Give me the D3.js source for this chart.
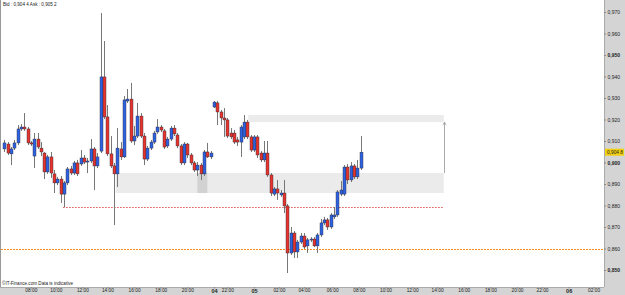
<!DOCTYPE html>
<html>
<head>
<meta charset="utf-8">
<script src="https://cdn.jsdelivr.net/npm/d3@7"></script>
<style>
  body { margin: 0; background: #fff; }
  svg { display: block; font-family: "Liberation Sans", Arial, sans-serif; }
</style>
</head>
<body>
<svg id="chart" width="625" height="295"></svg>
<script>
// 15 minute candles
let opens = [
  .9063,.9086,.9040,.9067,.9091,.9156,.9165,.9156,.9091,.9030,
  .9109,.9067,.9044,.8956,.9026,.8947,.8905,.8923,.8853,.8905,
  .8970,.8951,.8998,.8993,.9021,.9002,.9007,.9063,.8984,.9053,
  .9398,.9212,.9040,.8984,.8947,.9063,.9026,.9286,.9295,.9100,
  .9123,.9216,.9123,.9016,.9067,.9095,.9142,.9165,.9147,.9077,
  .9109,.9160,.9128,.9077,.8998,.9086,.9035,.8998,.8965,.8988,
  .8947,.9049,.9026,.9258,.9277,.9235,.9207,.9198,.9137,.9137,
  .9105,.9095,.9119,.9188,.9119,.9058,.9119,.9044,.9012,.9044,
  .8942,.8853,.8877,.8849,.8858,.8798,.8579,.8672,.8584,.8630,
  .8658,.8612,.8640,.8644,.8612,.8663,.8719,.8733,.8700,.8747,
  .8756,.8853,.8853,.8979,.8919,.8984,.8933,.8974
];
let highs = [
  .9105,.9095,.9072,.9105,.9174,.9179,.9230,.9165,.9100,.9137,
  .9137,.9095,.9049,.9035,.9049,.8965,.8933,.8937,.8914,.8979,
  .8984,.9007,.9012,.9058,.9035,.9021,.9109,.9072,.9044,.9695,
  .9565,.9267,.9123,.8998,.9160,.9095,.9309,.9342,.9370,.9170,
  .9277,.9230,.9137,.9077,.9105,.9147,.9202,.9174,.9156,.9119,
  .9170,.9174,.9137,.9086,.9095,.9091,.9044,.9007,.9002,.8998,
  .9058,.9091,.9053,.9286,.9286,.9244,.9253,.9207,.9160,.9151,
  .9119,.9174,.9221,.9198,.9128,.9128,.9128,.9053,.9100,.9100,
  .8951,.8886,.8919,.8872,.8919,.8807,.8700,.8681,.8640,.8672,
  .8672,.8649,.8653,.8653,.8672,.8737,.8747,.8742,.8765,.8793,
  .8872,.8914,.8988,.8993,.9002,.8993,.9012,.9123
];
let lows = [
  .9049,.9035,.8988,.9058,.9081,.9147,.9147,.9081,.9077,.8974,
  .9063,.9030,.8923,.8947,.8928,.8858,.8895,.8812,.8793,.8895,
  .8942,.8942,.8937,.8984,.8993,.8951,.8998,.8872,.8974,.9044,
  .9202,.9030,.8974,.8709,.8886,.9012,.9021,.9277,.9091,.9081,
  .9114,.9114,.8988,.9007,.9058,.9086,.9133,.9142,.9063,.9067,
  .9100,.9123,.9067,.8988,.8988,.9021,.8988,.8956,.8937,.8919,
  .8937,.9021,.9016,.9253,.9174,.9174,.9119,.9114,.9109,.9086,
  .9077,.9026,.9109,.9109,.9049,.9049,.9021,.9002,.9002,.8933,
  .8844,.8844,.8826,.8840,.8765,.8486,.8570,.8556,.8556,.8621,
  .8598,.8579,.8630,.8607,.8579,.8653,.8709,.8686,.8691,.8737,
  .8747,.8844,.8844,.8900,.8909,.8923,.8923,.8965
];
let closes = [
  .9091,.9044,.9063,.9091,.9156,.9165,.9156,.9091,.9086,.9109,
  .9072,.9049,.8956,.9026,.8951,.8905,.8923,.8853,.8905,.8970,
  .8951,.8998,.8947,.9021,.9002,.9007,.9063,.8984,.9026,.9398,
  .9212,.9040,.8984,.8947,.9067,.9026,.9291,.9295,.9100,.9123,
  .9216,.9123,.9016,.9067,.9095,.9137,.9165,.9151,.9072,.9109,
  .9160,.9133,.9077,.8998,.9086,.9035,.8998,.8965,.8988,.8947,
  .9049,.9026,.9044,.9281,.9235,.9207,.9198,.9123,.9119,.9095,
  .9095,.9165,.9188,.9119,.9058,.9119,.9035,.9012,.9044,.8942,
  .8858,.8877,.8858,.8858,.8798,.8579,.8672,.8584,.8630,.8658,
  .8607,.8640,.8644,.8612,.8663,.8719,.8733,.8700,.8756,.8756,
  .8863,.8872,.8979,.8919,.8984,.8933,.8974,.9048
];

// time axis labels (bar position, text)
let timeTickPos = [8,15.5,23.5,31,39,47,55,63,67,75,82.5,90,98.5,106.5,114.5,122.5,130,138,146,154,161.5,169.5,177];
let timeTickLabels = ["08:00","10:00","12:00","14:00","16:00","18:00","20:00","04","22:00","05","02:00","04:00",
                      "06:00","08:00","10:00","12:00","14:00","16:00","18:00","20:00","22:00","06","02:00"];
let dayLabels = ["04","05","06"];

let priceTicks = [0.85,0.86,0.87,0.88,0.89,0.90,0.91,0.92,0.93,0.94,0.95,0.96,0.97];

// zones: [fromBar, toBar, topPrice, bottomPrice]
let supplyZone = [73.3, 132, 0.9221, 0.9188];
let demandZone = [33.5, 132, 0.8951, 0.8858];
let darkZone = [58, 61, 0.8951, 0.8858];
let redLevel = [17.7, 132, 0.8793];
let orangeLevel = 0.8598;
let lastPrice = 0.9048;
let quoteText = "Bid : 0,904 4 Ask : 0,905 2";
let footText = "\u00A9IT-Finance.com  Data is indicative";

let svg = d3.select("#chart");
let W = 625, H = 295, plotR = 604, plotB = 287;

let x = d3.scaleLinear().domain([0, 180]).range([4.2, 603.6]);
let y = d3.scaleLinear().domain([0.85, 0.97]).range([270, 12]);

let fmt = function(d) { return d3.format(".3f")(d).replace(".", ","); };

// panels
svg.append("rect").attr("x", 0).attr("y", 0).attr("width", W).attr("height", H).attr("fill", "#fff");
svg.append("rect").attr("x", plotR).attr("y", 0).attr("width", W - plotR).attr("height", H).attr("fill", "#d4d4d4");
svg.append("rect").attr("x", 0).attr("y", plotB).attr("width", W).attr("height", H - plotB).attr("fill", "#d4d4d4");
svg.append("line").attr("x1", 0.5).attr("x2", 0.5).attr("y1", 0).attr("y2", plotB).attr("stroke", "#999");
svg.append("line").attr("x1", plotR + 0.5).attr("x2", plotR + 0.5).attr("y1", 0).attr("y2", plotB).attr("stroke", "#aaa");
svg.append("line").attr("x1", 0).attr("x2", plotR).attr("y1", plotB + 0.5).attr("y2", plotB + 0.5).attr("stroke", "#aaa");

// zones
function zoneRect(z, fill) {
    svg.append("rect")
        .attr("x", x(z[0])).attr("y", y(z[2]))
        .attr("width", x(z[1]) - x(z[0]))
        .attr("height", y(z[3]) - y(z[2]))
        .attr("fill", fill);
}
zoneRect(supplyZone, "#ebebeb");
zoneRect(demandZone, "#ebebeb");
zoneRect(darkZone, "#d2d2d2");

// levels
svg.append("line")
    .attr("x1", x(redLevel[0])).attr("x2", x(redLevel[1]))
    .attr("y1", Math.round(y(redLevel[2])) + 0.5).attr("y2", Math.round(y(redLevel[2])) + 0.5)
    .attr("stroke", "#d9534f").attr("stroke-dasharray", "1.5,1.5");
let oy = Math.round(y(orangeLevel)) + 0.5;
svg.append("line")
    .attr("x1", 1).attr("x2", plotR).attr("y1", oy).attr("y2", oy)
    .attr("stroke", "#ff8c1a").attr("stroke-width", 1.2).attr("stroke-dasharray", "2,1");

// measuring arrow between the zones
let ax = Math.round(x(supplyZone[1])) + 0.5;
svg.append("line").attr("x1", ax).attr("x2", ax)
    .attr("y1", y(supplyZone[3])).attr("y2", y(demandZone[2]))
    .attr("stroke", "#aaa");
svg.append("path")
    .attr("d", "M" + (ax - 1.5) + "," + (y(supplyZone[3]) + 3) + "L" + ax + "," + y(supplyZone[3]) + "L" + (ax + 1.5) + "," + (y(supplyZone[3]) + 3))
    .attr("fill", "none").attr("stroke", "#999").attr("stroke-width", 0.7);

// candles
let bars = d3.range(opens.length);
let g = svg.append("g");
g.selectAll("line.wick").data(bars).enter().append("line")
    .attr("class", "wick")
    .attr("x1", function(i) { return Math.round(x(i)) + 0.5; })
    .attr("x2", function(i) { return Math.round(x(i)) + 0.5; })
    .attr("y1", function(i) { return y(highs[i]); })
    .attr("y2", function(i) { return y(lows[i]); })
    .attr("stroke", "#777").attr("stroke-width", 1);
g.selectAll("rect.body").data(bars).enter().append("rect")
    .attr("class", "body")
    .attr("x", function(i) { return Math.round(x(i)) - 1; })
    .attr("width", 3)
    .attr("y", function(i) { return y(Math.max(opens[i], closes[i])); })
    .attr("height", function(i) { return Math.max(1, Math.abs(y(opens[i]) - y(closes[i]))); })
    .attr("fill", function(i) { return closes[i] >= opens[i] ? "#2f62e0" : "#e5352d"; })
    .attr("stroke", "#2a2a3a").attr("stroke-width", 0.4);

// price axis
let yAxis = svg.append("g")
    .attr("transform", "translate(" + plotR + ",0)")
    .call(d3.axisRight(y).tickValues(priceTicks).tickFormat(fmt).tickSize(2).tickPadding(1.5));
yAxis.select(".domain").remove();
yAxis.selectAll("line").attr("stroke", "#888");
yAxis.selectAll("text")
    .attr("font-size", "5px").attr("fill", "#222")
    .attr("font-weight", function(d) { return Math.round(d * 1000) % 50 === 0 ? "bold" : "normal"; });

// last price marker
svg.append("rect").attr("x", plotR + 1).attr("y", y(lastPrice) - 3.5).attr("width", 19).attr("height", 7).attr("fill", "#f2cf10");
svg.append("text").attr("x", plotR + 3).attr("y", y(lastPrice) + 1.7)
    .attr("font-size", "4.8px").attr("fill", "#222")
    .text(d3.format(".4f")(lastPrice).replace(".", ",").replace(/(\d{3})(\d)$/, "$1 $2"));

// time axis
let xAxis = svg.append("g")
    .attr("transform", "translate(0," + plotB + ")")
    .call(d3.axisBottom(x).tickValues(timeTickPos).tickFormat(function(d, i) { return timeTickLabels[i]; }).tickSize(1.5).tickPadding(0.5));
xAxis.select(".domain").remove();
xAxis.selectAll("line").attr("stroke", "#888");
xAxis.selectAll("text")
    .attr("fill", "#222")
    .attr("font-weight", function(d, i) { return dayLabels.indexOf(timeTickLabels[i]) >= 0 ? "bold" : "normal"; })
    .attr("font-size", function(d, i) { return dayLabels.indexOf(timeTickLabels[i]) >= 0 ? "5.5px" : "4.8px"; });

// header and footer texts
svg.append("text").attr("x", 3).attr("y", 6).attr("font-size", "4.6px").attr("fill", "#222").text(quoteText);
svg.append("text").attr("x", 2).attr("y", 285).attr("font-size", "4.6px").attr("fill", "#222").text(footText);
</script>
</body>
</html>
